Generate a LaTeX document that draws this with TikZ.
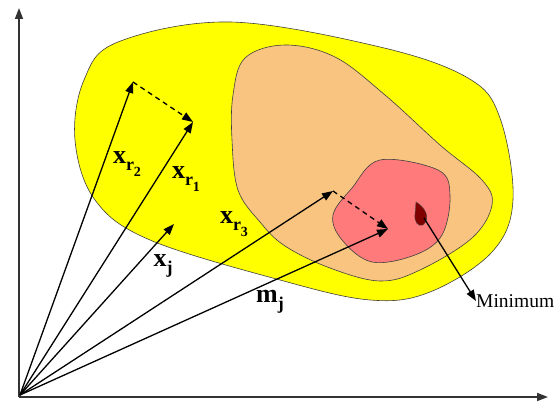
\documentclass[tikz,border=0pt]{standalone}
\usepackage{fontspec}
\setmainfont{Liberation Serif}
\usetikzlibrary{arrows.meta,positioning,calc}
\definecolor{Outer}{RGB}{255,255,0}
\definecolor{Middle}{RGB}{248,196,128}
\definecolor{Inner}{RGB}{255,122,122}
\definecolor{Core}{RGB}{128,0,0}
\newcommand{\subA}[1]{\raisebox{-0.28em}{\fontsize{18}{18}\selectfont #1}}
\newcommand{\subB}[1]{\raisebox{-0.3em}{\fontsize{14}{14}\selectfont #1}}

\begin{document}
\begin{tikzpicture}[x=1pt,y=-1pt,>=Latex,
  vec/.style={-{Triangle[length=11pt,width=8pt]},line width=1.3pt},
  dvec/.style={vec,dash pattern=on 5pt off 4pt},
  axis/.style={-{Triangle[length=11pt,width=8pt]},line width=1.6pt,black!80},
  blob/.style={draw=black!75,line width=0.6pt},
  lab/.style={font=\fontsize{26}{26}\selectfont\bfseries,inner sep=0pt}]
  \useasboundingbox (0,0) rectangle (560,403);
  % regions
  \fill[Outer,blob] plot[smooth cycle,tension=0.6] coordinates {(118,42) (230,22) (380,47) (468,78) (500,118) (513,200) (492,252) (430,292) (370,300) (280,280) (150,240) (95,200) (75,140) (84,80)};
  \fill[Middle,blob] plot[smooth cycle,tension=0.6] coordinates {(245,58) (285,45) (335,57) (385,95) (440,145) (482,180) (492,205) (472,238) (420,270) (380,281) (330,268) (285,246) (260,222) (238,190) (232,140) (233,95)};
  \fill[Inner,blob] plot[smooth cycle,tension=0.6] coordinates {(380,160) (438,170) (450,195) (442,235) (415,255) (372,262) (342,240) (333,215) (352,188)};
  \fill[Core,draw=black!70,line width=0.4pt] (416,202) .. controls (425,207) and (431,218) .. (423,225) .. controls (418,227) and (414,222) .. (415,214) -- cycle;
  % axes
  \coordinate (O) at (20,395);
  \coordinate (ytop) at (19,8);
  \coordinate (xend) at (548,397);
  \draw[axis] (19,397) -- (ytop);
  \draw[axis] (19,397) -- (xend);
  % vectors
  \coordinate (r2) at (133,82);
  \coordinate (r1) at (193,122);
  \coordinate (xj) at (174,224);
  \coordinate (r3) at (333,191);
  \coordinate (mj) at (388,229);
  \draw[vec] (O) -- (r2);
  \draw[vec] (O) -- (r1);
  \draw[vec] (O) -- (xj);
  \draw[vec] (O) -- (r3);
  \draw[vec] (O) -- (mj);
  \draw[dvec] (r2) -- (r1);
  \draw[dvec] (r3) -- (mj);
  % labels
  \node[lab] (lr2) at (127,164) {x\subA{r\subB{2}}};
  \node[lab] (lr1) at (186,179) {x\subA{r\subB{1}}};
  \node[lab] (lr3) at (234,224) {x\subA{r\subB{3}}};
  \node[lab] (lxj) at (163,266) {x\subA{j}};
  \node[lab] (lmj) at (270,302) {m\subA{j}};
  % minimum
  \coordinate (core) at (424,218);
  \node[font=\fontsize{19.5}{20}\selectfont,anchor=west,inner sep=0pt] (minlab) at (476,301) {Minimum};
  \draw[vec] (core) -- (minlab.west);
\end{tikzpicture}
\end{document}
